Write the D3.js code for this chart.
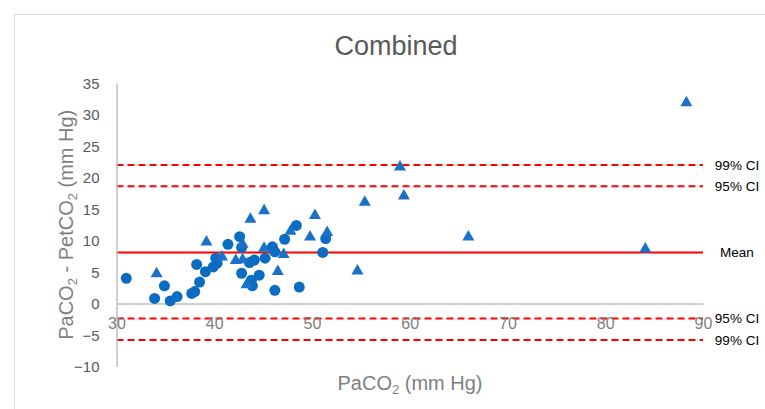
<!DOCTYPE html>
<html><head><meta charset="utf-8">
<script src="https://cdn.jsdelivr.net/npm/d3@7"></script>
<style>
html,body{margin:0;padding:0;background:#fff;}
svg{display:block;}
</style></head>
<body>
<svg id="chart" width="765" height="409"></svg>
<script>
// ---- data ----
const title = "Combined";
const xTicks = [30, 40, 50, 60, 70, 80, 90];
const yTicks = [-10, -5, 0, 5, 10, 15, 20, 25, 30, 35];

const circleX = [31.0, 33.9, 34.9, 35.5, 36.2, 37.7, 38.0, 38.5, 38.2, 39.1, 39.9, 40.3, 40.15, 41.4, 42.6, 42.8, 42.8, 43.6, 44.1, 43.8, 43.9, 44.6, 45.2, 45.95, 46.2, 46.2, 47.2, 48.4, 48.7, 51.4, 51.1];
const circleY = [4.0, 0.8, 2.8, 0.4, 1.1, 1.6, 1.9, 3.4, 6.2, 5.05, 5.8, 6.4, 7.2, 9.4, 10.6, 8.9, 4.8, 6.5, 6.9, 3.7, 2.8, 4.5, 7.2, 9.0, 8.2, 2.1, 10.2, 12.4, 2.6, 10.3, 8.1];

const triX = [34.1, 39.2, 40.8, 43.7, 45.1, 42.2, 42.9, 42.9, 43.3, 45.1, 46.5, 47.1, 47.8, 49.8, 50.3, 51.55, 88.3, 59.0, 59.4, 55.4, 66.0, 84.1, 54.65];
const triY = [4.95, 10.0, 7.6, 13.6, 14.95, 7.06, 9.65, 7.2, 3.2, 9.0, 5.3, 8.0, 11.7, 10.8, 14.2, 11.5, 32.1, 21.9, 17.3, 16.3, 10.8, 8.9, 5.4];

const refNames = ["99% CI", "95% CI", "Mean", "95% CI", "99% CI"];
const refValues = [22.0, 18.6, 8.1, -2.4, -5.8];
const refDashed = [true, true, false, true, true];

// ---- layout ----
const svg = d3.select("#chart");
const plot = {left: 116.5, right: 703, top: 83, bottom: 366.5};

svg.append("rect").attr("x", 14.5).attr("y", 14.5).attr("width", 800).attr("height", 500)
  .attr("fill", "#fff").attr("stroke", "#d9d9d9").attr("stroke-width", 1);

const x = d3.scaleLinear().domain([30, 90]).range([plot.left, plot.right]);
const y = d3.scaleLinear().domain([-10, 35]).range([plot.bottom, plot.top]);

const FONT = "'Liberation Sans', Arial, sans-serif";

// title
svg.append("text").attr("x", 396).attr("y", 55).attr("text-anchor", "middle")
  .attr("font-family", FONT).attr("font-size", 27).attr("fill", "#595959").text(title);

// reference lines
const refG = svg.append("g");
refValues.forEach((v, i) => {
  refG.append("line")
    .attr("x1", x(30)).attr("x2", x(90))
    .attr("y1", y(v)).attr("y2", y(v))
    .attr("stroke", "#ff0000").attr("stroke-width", 2)
    .attr("stroke-dasharray", refDashed[i] ? "7,4" : null);
});

// y axis
const yAxis = d3.axisLeft(y).tickValues(yTicks).tickSize(0).tickPadding(0);
const gy = svg.append("g").attr("transform", `translate(${plot.left},0)`).call(yAxis);
gy.select(".domain").attr("stroke", "#bfbfbf").attr("stroke-width", 1.5);
gy.selectAll(".tick text").attr("x", -17).attr("dy", "0.36em")
  .attr("font-family", FONT).attr("font-size", 15).attr("fill", "#595959");

// x axis at y=0
const xAxis = d3.axisBottom(x).tickValues(xTicks).tickSize(0).tickPadding(0);
const gx = svg.append("g").attr("transform", `translate(0,${y(0)})`).call(xAxis);
gx.select(".domain").attr("stroke", "#bfbfbf").attr("stroke-width", 1.5);
gx.selectAll(".tick text").attr("y", 25).attr("dy", "0")
  .attr("font-family", FONT).attr("font-size", 16).attr("fill", "#7f7f7f");

// reference labels
refValues.forEach((v, i) => {
  svg.append("text")
    .attr("x", 737).attr("y", y(v)).attr("dy", "0.36em").attr("text-anchor", "middle")
    .attr("font-family", FONT).attr("font-size", 13.5).attr("fill", "#000")
    .text(refNames[i]);
});

// points
const circles = circleX.map((d, i) => ({x: d, y: circleY[i]}));
const tris = triX.map((d, i) => ({x: d, y: triY[i]}));

svg.append("g").selectAll("circle").data(circles).join("circle")
  .attr("cx", d => x(d.x)).attr("cy", d => y(d.y)).attr("r", 5.5)
  .attr("fill", "#0a6dc2");

svg.append("g").selectAll("path").data(tris).join("path")
  .attr("d", "M0,-5.5L6,5L-6,5Z")
  .attr("transform", d => `translate(${x(d.x)},${y(d.y)})`)
  .attr("fill", "#1a72c8");

// axis titles
const yt = svg.append("text")
  .attr("transform", `translate(73,${(plot.top + plot.bottom) / 2}) rotate(-90)`)
  .attr("text-anchor", "middle").attr("font-family", FONT).attr("font-size", 20).attr("fill", "#7f7f7f");
yt.append("tspan").text("PaCO");
yt.append("tspan").attr("font-size", 13).attr("dy", 4).text("2");
yt.append("tspan").attr("dy", -4).text(" - PetCO");
yt.append("tspan").attr("font-size", 13).attr("dy", 4).text("2");
yt.append("tspan").attr("dy", -4).text(" (mm Hg)");

const xt = svg.append("text")
  .attr("x", 410).attr("y", 390)
  .attr("text-anchor", "middle").attr("font-family", FONT).attr("font-size", 20).attr("fill", "#7f7f7f");
xt.append("tspan").text("PaCO");
xt.append("tspan").attr("font-size", 13).attr("dy", 4).text("2");
xt.append("tspan").attr("dy", -4).text(" (mm Hg)");
</script>
</body></html>
